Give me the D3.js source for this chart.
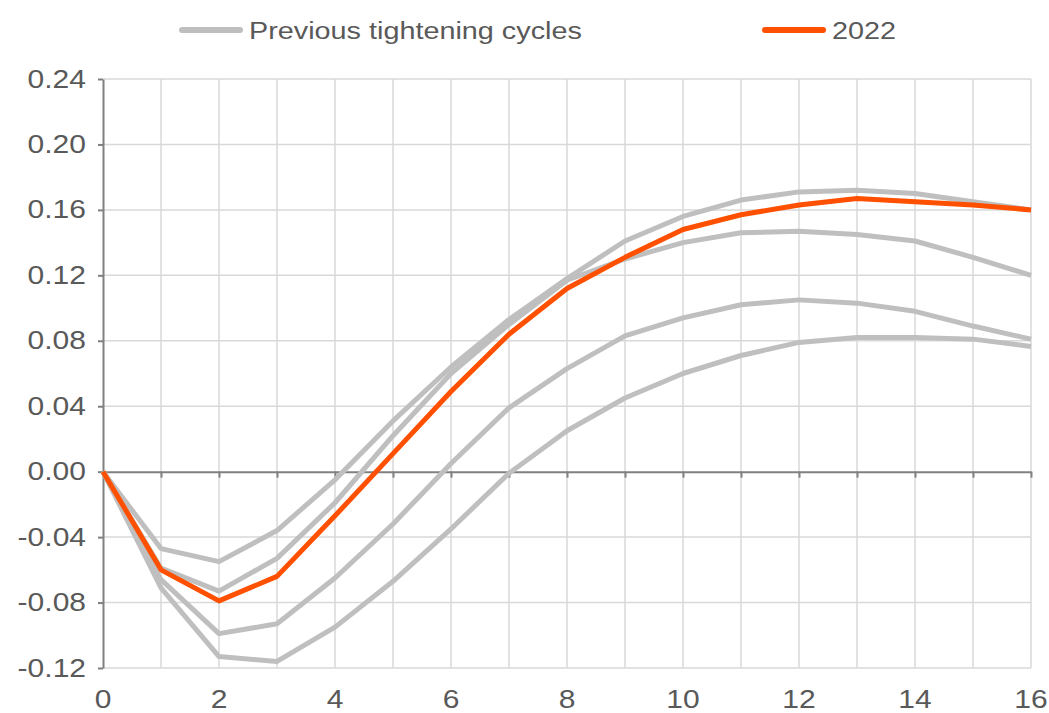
<!DOCTYPE html>
<html>
<head>
<meta charset="utf-8">
<script src="https://cdn.jsdelivr.net/npm/d3@7"></script>
<style>
  body { margin: 0; background: #fff; }
  text { font-family: "Liberation Sans", Arial, sans-serif; fill: #595959; }
</style>
</head>
<body>
<script>
let width = 1049;
let height = 713;
let margin = { top: 79, right: 18, bottom: 45, left: 103 };

// months after the shock
const steps = d3.range(0, 17);
const xTicks = [0, 2, 4, 6, 8, 10, 12, 14, 16];
const yTicks = [-0.12, -0.08, -0.04, 0, 0.04, 0.08, 0.12, 0.16, 0.20, 0.24];

// previous tightening cycles (grey)
const cycleA = [0, -0.047, -0.055, -0.036, -0.005, 0.031, 0.064, 0.093, 0.118, 0.141, 0.156, 0.166, 0.171, 0.172, 0.170, 0.165, 0.160];
const cycleB = [0, -0.059, -0.073, -0.053, -0.019, 0.022, 0.060, 0.090, 0.117, 0.130, 0.140, 0.146, 0.147, 0.145, 0.141, 0.131, 0.120];
const cycleC = [0, -0.066, -0.099, -0.093, -0.065, -0.032, 0.005, 0.039, 0.063, 0.083, 0.094, 0.102, 0.105, 0.103, 0.098, 0.089, 0.081];
const cycleD = [0, -0.071, -0.113, -0.116, -0.095, -0.067, -0.035, -0.001, 0.025, 0.045, 0.060, 0.071, 0.079, 0.082, 0.082, 0.081, 0.0765];
// 2022 (orange)
const y2022 = [0, -0.060, -0.079, -0.064, -0.027, 0.011, 0.049, 0.084, 0.112, 0.131, 0.148, 0.157, 0.163, 0.167, 0.165, 0.163, 0.160];

const previous = [cycleA, cycleB, cycleC, cycleD];
const legendLabels = ["Previous tightening cycles", "2022"];

const grey = "#bfbfbf";
const orange = "#ff5000";
const stretch = 1.2; // text in the original is horizontally stretched

const svg = d3.select("body").append("svg")
    .attr("width", width)
    .attr("height", height)
    .attr("viewBox", [0, 0, width, height]);

let x = d3.scaleLinear([0, 16], [margin.left, width - margin.right]);
let y = d3.scaleLinear([-0.12, 0.24], [height - margin.bottom, margin.top]);

// gridlines
svg.append("g")
    .attr("stroke", "#d9d9d9")
    .attr("stroke-width", 1.5)
    .call(g => g.selectAll("line.v")
        .data(steps.slice(1))
        .join("line")
        .attr("x1", d => x(d)).attr("x2", d => x(d))
        .attr("y1", y(0.24)).attr("y2", y(-0.12)))
    .call(g => g.selectAll("line.h")
        .data(yTicks.filter(d => d !== 0))
        .join("line")
        .attr("class", "h")
        .attr("x1", x(0)).attr("x2", x(16))
        .attr("y1", d => y(d)).attr("y2", d => y(d)));

// y axis
svg.append("g")
    .attr("transform", `translate(${x(0)},0)`)
    .call(d3.axisLeft(y).tickValues(yTicks).tickSize(5).tickSizeOuter(0).tickFormat(""))
    .call(g => g.selectAll("path, line").attr("stroke", "#808080").attr("stroke-width", 2));

// zero line with downward ticks
svg.append("g")
    .attr("transform", `translate(0,${y(0)})`)
    .call(d3.axisBottom(x).tickValues(steps.slice(1)).tickSize(6).tickSizeOuter(0).tickFormat(""))
    .call(g => g.selectAll("path, line").attr("stroke", "#808080").attr("stroke-width", 2));

// tick labels (plain hyphen for negatives, as in the original)
svg.append("g")
    .selectAll("text")
    .data(yTicks)
    .join("text")
    .attr("transform", d => `translate(${x(0) - 17},${y(d) + 8.5}) scale(${stretch},1)`)
    .attr("text-anchor", "end")
    .attr("font-size", 25)
    .text(d => d.toFixed(2));

svg.append("g")
    .selectAll("text")
    .data(xTicks)
    .join("text")
    .attr("transform", d => `translate(${x(d)},${height - 5}) scale(${stretch},1)`)
    .attr("text-anchor", "middle")
    .attr("font-size", 25)
    .text(d => d);

// lines
const line = d3.line()
    .x((d, i) => x(steps[i]))
    .y(d => y(d));

svg.append("g")
    .attr("fill", "none")
    .attr("stroke", grey)
    .attr("stroke-width", 5)
    .attr("stroke-linejoin", "round")
    .selectAll("path")
    .data(previous)
    .join("path")
    .attr("d", line);

svg.append("path")
    .datum(y2022)
    .attr("fill", "none")
    .attr("stroke", orange)
    .attr("stroke-width", 5)
    .attr("stroke-linejoin", "round")
    .attr("d", line);

// legend
const legend = svg.append("g")
    .selectAll("g")
    .data(legendLabels)
    .join("g")
    .attr("transform", (d, i) => `translate(${i === 0 ? 182 : 765},30)`);

legend.append("line")
    .attr("x1", 0).attr("x2", 58)
    .attr("stroke", (d, i) => i === 0 ? grey : orange)
    .attr("stroke-width", 6)
    .attr("stroke-linecap", "round");

legend.append("text")
    .attr("transform", `translate(67,8.5) scale(${stretch},1)`)
    .attr("font-size", 24)
    .text(d => d);
</script>
</body>
</html>
